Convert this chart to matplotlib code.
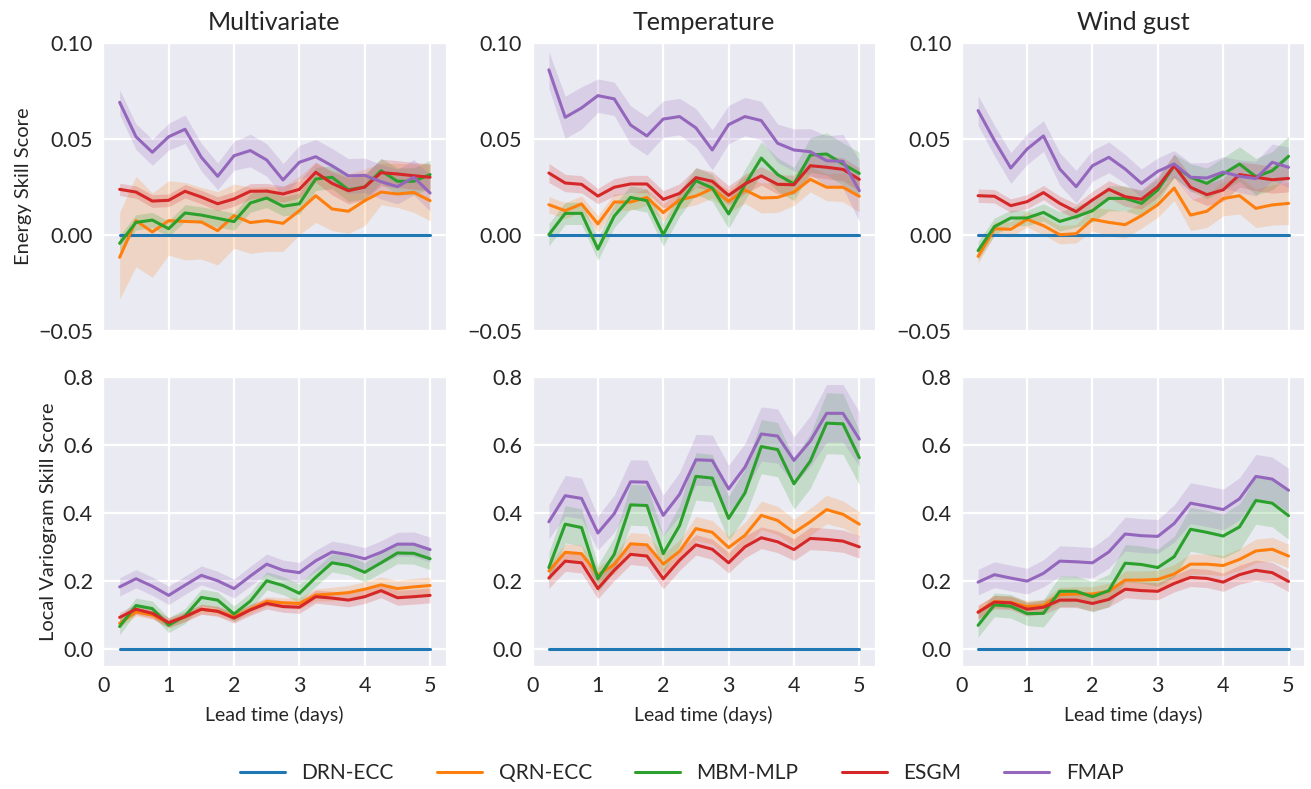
import matplotlib
matplotlib.use("Agg")
import matplotlib.pyplot as plt
import seaborn as sns
import numpy as np

# lead times (days)
lead_times = [0.25, 0.5, 0.75, 1.0, 1.25, 1.5, 1.75, 2.0, 2.25, 2.5,
              2.75, 3.0, 3.25, 3.5, 3.75, 4.0, 4.25, 4.5, 4.75, 5.0]

models = ["DRN-ECC", "QRN-ECC", "MBM-MLP", "ESGM", "FMAP"]
colors = ["#1f77b4", "#ff7f0e", "#2ca02c", "#d62728", "#9467bd"]
col_titles = ["Multivariate", "Temperature", "Wind gust"]
row_labels = ["Energy Skill Score", "Local Variogram Skill Score"]

# ---- Energy skill score: means ----
es_mv_qrn = [-0.0118, 0.0073, 0.0014, 0.0073, 0.0069, 0.0066, 0.0021, 0.0099, 0.0063, 0.0073,
             0.0059, 0.0125, 0.0203, 0.0134, 0.0122, 0.0177, 0.0222, 0.0212, 0.022, 0.0177]
es_mv_mbm = [-0.0045, 0.0064, 0.0076, 0.0031, 0.0113, 0.0102, 0.0085, 0.0068, 0.0165, 0.0191,
             0.0148, 0.0161, 0.029, 0.0299, 0.0234, 0.0248, 0.0333, 0.0278, 0.0278, 0.0313]
es_mv_esgm = [0.0236, 0.0222, 0.0175, 0.0179, 0.0226, 0.0196, 0.0161, 0.0186, 0.0226, 0.0227,
              0.0212, 0.0236, 0.0325, 0.0267, 0.0229, 0.0248, 0.0323, 0.0316, 0.0307, 0.0299]
es_mv_fmap = [0.0689, 0.051, 0.0429, 0.051, 0.0549, 0.0403, 0.0304, 0.0411, 0.0438, 0.0389,
              0.0285, 0.0377, 0.0406, 0.0359, 0.0306, 0.0309, 0.0276, 0.025, 0.0299, 0.0217]

es_t_qrn = [0.0156, 0.0125, 0.016, 0.0056, 0.017, 0.017, 0.0194, 0.0115, 0.0181, 0.0201,
            0.024, 0.0174, 0.0233, 0.0191, 0.0194, 0.0222, 0.0288, 0.0247, 0.0247, 0.02]
es_t_mbm = [0.0, 0.0111, 0.0111, -0.0075, 0.0097, 0.0194, 0.0177, 0.0, 0.016, 0.0281,
            0.0243, 0.0108, 0.026, 0.0399, 0.0313, 0.0264, 0.0415, 0.042, 0.0368, 0.0319]
es_t_esgm = [0.0321, 0.0269, 0.0262, 0.0201, 0.0247, 0.0264, 0.0264, 0.0184, 0.0215, 0.0297,
             0.0278, 0.0205, 0.0264, 0.0306, 0.0262, 0.026, 0.0359, 0.0351, 0.034, 0.0288]
es_t_fmap = [0.0858, 0.0611, 0.066, 0.0724, 0.0707, 0.0571, 0.0514, 0.0602, 0.0615, 0.0556,
             0.0441, 0.0573, 0.0615, 0.0594, 0.0476, 0.0441, 0.0432, 0.0385, 0.0382, 0.0229]

es_w_qrn = [-0.0113, 0.0031, 0.0028, 0.008, 0.0047, 0.0, 0.0005, 0.008, 0.0064, 0.0052,
            0.0099, 0.0156, 0.0243, 0.0102, 0.0122, 0.0188, 0.0203, 0.0137, 0.0155, 0.0163]
es_w_mbm = [-0.0083, 0.0042, 0.0087, 0.0087, 0.0116, 0.0069, 0.0094, 0.0125, 0.0189, 0.0189,
            0.0163, 0.0233, 0.0359, 0.0299, 0.0267, 0.0316, 0.0368, 0.0302, 0.0333, 0.0408]
es_w_esgm = [0.0203, 0.02, 0.0151, 0.0172, 0.0219, 0.0163, 0.012, 0.0181, 0.0236, 0.0198,
             0.0184, 0.025, 0.0359, 0.0247, 0.0208, 0.0233, 0.0313, 0.0299, 0.0286, 0.0293]
es_w_fmap = [0.0646, 0.049, 0.0347, 0.0446, 0.0514, 0.0342, 0.025, 0.0359, 0.0403, 0.0342,
             0.0267, 0.033, 0.0368, 0.0299, 0.0295, 0.0326, 0.0304, 0.0292, 0.0377, 0.0351]

# ---- Energy skill score: band half widths (below, above) ----
es_mv_qrn_lo = [0.0217, 0.024, 0.0236, 0.0179, 0.02, 0.0193, 0.0179, 0.017, 0.016, 0.016,
                0.0146, 0.0125, 0.0139, 0.0113, 0.0115, 0.013, 0.0066, 0.007, 0.0104, 0.0104]
es_mv_qrn_hi = [0.0234, 0.0231, 0.0203, 0.0208, 0.0203, 0.018, 0.0203, 0.0165, 0.0184, 0.0177,
                0.019, 0.018, 0.0174, 0.02, 0.0194, 0.0165, 0.015, 0.016, 0.0148, 0.019]
es_mv_mbm_hw = [0.004, 0.004, 0.004, 0.004, 0.0043, 0.0043, 0.0045, 0.0045, 0.0048, 0.005,
                0.005, 0.0055, 0.006, 0.006, 0.006, 0.0062, 0.0065, 0.007, 0.007, 0.0074]
es_mv_esgm_hw = [0.0032, 0.0032, 0.0033, 0.0033, 0.0035, 0.0035, 0.0036, 0.0038, 0.004, 0.004,
                 0.0042, 0.0045, 0.0052, 0.006, 0.0068, 0.0068, 0.007, 0.007, 0.007, 0.007]
es_mv_fmap_hw = [0.0065, 0.0067, 0.0068, 0.007, 0.0074, 0.0072, 0.007, 0.0075, 0.0085, 0.0085,
                 0.0085, 0.0088, 0.009, 0.009, 0.009, 0.009, 0.009, 0.009, 0.0092, 0.0095]

es_t_qrn_hw = [0.0042, 0.0042, 0.0042, 0.0043, 0.0043, 0.0043, 0.0043, 0.0045, 0.0045, 0.0045,
               0.005, 0.006, 0.007, 0.0078, 0.0078, 0.007, 0.0065, 0.007, 0.0075, 0.0082]
es_t_mbm_hw = [0.0058, 0.0058, 0.0058, 0.0058, 0.006, 0.006, 0.006, 0.006, 0.0065, 0.007,
               0.007, 0.0075, 0.008, 0.0085, 0.0087, 0.0087, 0.009, 0.011, 0.011, 0.011]
es_t_esgm_hw = [0.005, 0.0045, 0.0045, 0.004, 0.0045, 0.0045, 0.0045, 0.0045, 0.005, 0.005,
                0.005, 0.005, 0.005, 0.0048, 0.005, 0.005, 0.0056, 0.006, 0.006, 0.006]
es_t_fmap_hw = [0.0095, 0.011, 0.011, 0.0087, 0.0087, 0.01, 0.01, 0.0095, 0.0095, 0.01,
                0.0104, 0.01, 0.01, 0.01, 0.01, 0.011, 0.012, 0.013, 0.014, 0.016]

es_w_qrn_hw = [0.0035, 0.0035, 0.004, 0.004, 0.0048, 0.0048, 0.0048, 0.006, 0.007, 0.007,
               0.0065, 0.0065, 0.0065, 0.008, 0.0085, 0.009, 0.0095, 0.01, 0.0105, 0.011]
es_w_mbm_hw = [0.0048, 0.0045, 0.004, 0.004, 0.0045, 0.005, 0.0055, 0.006, 0.0065, 0.0065,
               0.0065, 0.006, 0.006, 0.007, 0.008, 0.0085, 0.009, 0.0095, 0.01, 0.0105]
es_w_esgm_hw = [0.0035, 0.0035, 0.0035, 0.0037, 0.0037, 0.0038, 0.004, 0.0045, 0.0045, 0.005,
                0.005, 0.0055, 0.006, 0.006, 0.0056, 0.006, 0.0065, 0.007, 0.007, 0.007]
es_w_fmap_hw = [0.0078, 0.008, 0.008, 0.008, 0.008, 0.0085, 0.0085, 0.008, 0.008, 0.0075,
                0.0075, 0.007, 0.007, 0.0075, 0.008, 0.008, 0.0085, 0.009, 0.0095, 0.0105]

# ---- Local variogram skill score: means ----
vs_mv_qrn = [0.0745, 0.108, 0.099, 0.0745, 0.094, 0.116, 0.11, 0.094, 0.116, 0.139,
             0.135, 0.133, 0.158, 0.161, 0.165, 0.175, 0.188, 0.177, 0.182, 0.186]
vs_mv_mbm = [0.065, 0.127, 0.118, 0.069, 0.096, 0.151, 0.143, 0.102, 0.14, 0.2,
             0.186, 0.163, 0.21, 0.253, 0.245, 0.225, 0.253, 0.282, 0.281, 0.265]
vs_mv_esgm = [0.092, 0.116, 0.104, 0.0765, 0.094, 0.116, 0.11, 0.09, 0.114, 0.133,
              0.124, 0.122, 0.153, 0.149, 0.143, 0.153, 0.171, 0.15, 0.153, 0.157]
vs_mv_fmap = [0.182, 0.206, 0.184, 0.157, 0.187, 0.216, 0.2, 0.177, 0.214, 0.249,
              0.231, 0.224, 0.259, 0.285, 0.277, 0.265, 0.284, 0.308, 0.308, 0.292]

vs_t_qrn = [0.229, 0.284, 0.28, 0.217, 0.248, 0.309, 0.306, 0.249, 0.287, 0.354,
            0.343, 0.298, 0.334, 0.393, 0.378, 0.342, 0.374, 0.41, 0.396, 0.367]
vs_t_mbm = [0.239, 0.367, 0.357, 0.206, 0.278, 0.424, 0.422, 0.28, 0.363, 0.508,
            0.503, 0.384, 0.459, 0.596, 0.587, 0.486, 0.553, 0.665, 0.663, 0.563]
vs_t_esgm = [0.208, 0.258, 0.253, 0.177, 0.231, 0.278, 0.273, 0.206, 0.261, 0.306,
             0.293, 0.253, 0.3, 0.327, 0.315, 0.292, 0.325, 0.322, 0.317, 0.3]
vs_t_fmap = [0.374, 0.451, 0.443, 0.341, 0.398, 0.492, 0.491, 0.393, 0.455, 0.557,
             0.555, 0.471, 0.535, 0.633, 0.627, 0.555, 0.612, 0.694, 0.694, 0.618]

vs_w_qrn = [0.108, 0.139, 0.136, 0.124, 0.127, 0.159, 0.161, 0.161, 0.169, 0.202,
            0.202, 0.204, 0.22, 0.249, 0.249, 0.245, 0.263, 0.288, 0.293, 0.273]
vs_w_mbm = [0.0686, 0.129, 0.125, 0.103, 0.104, 0.169, 0.169, 0.153, 0.171, 0.252,
            0.248, 0.239, 0.271, 0.352, 0.343, 0.332, 0.359, 0.437, 0.429, 0.392]
vs_w_esgm = [0.107, 0.137, 0.135, 0.116, 0.122, 0.143, 0.143, 0.133, 0.145, 0.175,
             0.171, 0.169, 0.192, 0.21, 0.207, 0.196, 0.218, 0.231, 0.224, 0.198]
vs_w_fmap = [0.196, 0.218, 0.208, 0.199, 0.222, 0.258, 0.256, 0.253, 0.285, 0.338,
             0.333, 0.331, 0.369, 0.429, 0.42, 0.41, 0.442, 0.508, 0.5, 0.467]

# ---- Local variogram skill score: band half widths ----
vs_mv_qrn_hw = [0.012, 0.012, 0.012, 0.012, 0.012, 0.013, 0.013, 0.013, 0.014, 0.014,
                0.015, 0.016, 0.018, 0.02, 0.021, 0.022, 0.023, 0.024, 0.025, 0.025]
vs_mv_mbm_hw = [0.024, 0.022, 0.022, 0.022, 0.022, 0.024, 0.024, 0.024, 0.025, 0.027,
                0.027, 0.027, 0.027, 0.027, 0.028, 0.029, 0.03, 0.032, 0.032, 0.032]
vs_mv_esgm_hw = [0.015, 0.015, 0.015, 0.015, 0.015, 0.015, 0.015, 0.015, 0.016, 0.016,
                 0.017, 0.018, 0.019, 0.02, 0.02, 0.02, 0.021, 0.022, 0.022, 0.022]
vs_mv_fmap_hw = [0.027, 0.027, 0.027, 0.027, 0.027, 0.028, 0.028, 0.028, 0.029, 0.03,
                 0.03, 0.03, 0.031, 0.032, 0.032, 0.033, 0.034, 0.035, 0.036, 0.037]

vs_t_qrn_hw = [0.022, 0.025, 0.025, 0.022, 0.028, 0.033, 0.033, 0.03, 0.033, 0.035,
               0.035, 0.035, 0.038, 0.042, 0.042, 0.04, 0.04, 0.042, 0.04, 0.037]
vs_t_mbm_hw = [0.045, 0.055, 0.055, 0.04, 0.05, 0.06, 0.06, 0.055, 0.06, 0.07,
               0.07, 0.065, 0.07, 0.08, 0.08, 0.075, 0.08, 0.09, 0.09, 0.08]
vs_t_esgm_hw = [0.03, 0.03, 0.03, 0.03, 0.03, 0.03, 0.03, 0.03, 0.03, 0.03,
                0.03, 0.03, 0.032, 0.032, 0.032, 0.032, 0.033, 0.033, 0.033, 0.033]
vs_t_fmap_hw = [0.05, 0.06, 0.06, 0.05, 0.055, 0.065, 0.065, 0.06, 0.065, 0.075,
                0.075, 0.07, 0.07, 0.08, 0.08, 0.07, 0.075, 0.085, 0.085, 0.08]

vs_w_qrn_hw = [0.02, 0.018, 0.018, 0.018, 0.018, 0.022, 0.022, 0.022, 0.024, 0.027,
               0.027, 0.027, 0.028, 0.03, 0.03, 0.03, 0.032, 0.035, 0.035, 0.035]
vs_w_mbm_hw = [0.035, 0.035, 0.035, 0.035, 0.04, 0.045, 0.045, 0.045, 0.048, 0.055,
               0.055, 0.055, 0.06, 0.065, 0.065, 0.065, 0.068, 0.07, 0.07, 0.07]
vs_w_esgm_hw = [0.02, 0.02, 0.02, 0.02, 0.02, 0.022, 0.022, 0.022, 0.022, 0.025,
                0.025, 0.025, 0.025, 0.027, 0.027, 0.027, 0.028, 0.03, 0.03, 0.03]
vs_w_fmap_hw = [0.038, 0.038, 0.038, 0.038, 0.04, 0.045, 0.045, 0.045, 0.048, 0.05,
                0.05, 0.05, 0.055, 0.06, 0.06, 0.06, 0.062, 0.065, 0.065, 0.065]

# DRN-ECC is the reference model, so its skill score is zero everywhere
baseline = [0.0] * len(lead_times)

# panels[row][col] = list of (mean, lower half width, upper half width) per model after DRN-ECC
panels = [
    [
        [(es_mv_qrn, es_mv_qrn_lo, es_mv_qrn_hi), (es_mv_mbm, es_mv_mbm_hw, es_mv_mbm_hw),
         (es_mv_esgm, es_mv_esgm_hw, es_mv_esgm_hw), (es_mv_fmap, es_mv_fmap_hw, es_mv_fmap_hw)],
        [(es_t_qrn, es_t_qrn_hw, es_t_qrn_hw), (es_t_mbm, es_t_mbm_hw, es_t_mbm_hw),
         (es_t_esgm, es_t_esgm_hw, es_t_esgm_hw), (es_t_fmap, es_t_fmap_hw, es_t_fmap_hw)],
        [(es_w_qrn, es_w_qrn_hw, es_w_qrn_hw), (es_w_mbm, es_w_mbm_hw, es_w_mbm_hw),
         (es_w_esgm, es_w_esgm_hw, es_w_esgm_hw), (es_w_fmap, es_w_fmap_hw, es_w_fmap_hw)],
    ],
    [
        [(vs_mv_qrn, vs_mv_qrn_hw, vs_mv_qrn_hw), (vs_mv_mbm, vs_mv_mbm_hw, vs_mv_mbm_hw),
         (vs_mv_esgm, vs_mv_esgm_hw, vs_mv_esgm_hw), (vs_mv_fmap, vs_mv_fmap_hw, vs_mv_fmap_hw)],
        [(vs_t_qrn, vs_t_qrn_hw, vs_t_qrn_hw), (vs_t_mbm, vs_t_mbm_hw, vs_t_mbm_hw),
         (vs_t_esgm, vs_t_esgm_hw, vs_t_esgm_hw), (vs_t_fmap, vs_t_fmap_hw, vs_t_fmap_hw)],
        [(vs_w_qrn, vs_w_qrn_hw, vs_w_qrn_hw), (vs_w_mbm, vs_w_mbm_hw, vs_w_mbm_hw),
         (vs_w_esgm, vs_w_esgm_hw, vs_w_esgm_hw), (vs_w_fmap, vs_w_fmap_hw, vs_w_fmap_hw)],
    ],
]

sns.set_style("darkgrid", {"grid.linewidth": 1.6})
plt.rcParams["font.family"] = ["Lato", "DejaVu Sans"]
plt.rcParams["axes.unicode_minus"] = True

fig, axes = plt.subplots(2, 3, figsize=(13.11, 7.89), dpi=100)
fig.subplots_adjust(left=0.0788, right=0.9947, top=0.946, bottom=0.1565,
                    wspace=0.254, hspace=0.162)

x = np.array(lead_times)
for r in range(2):
    for c in range(3):
        ax = axes[r, c]
        ax.grid(True, color="white", lw=1.6)
        ax.plot(x, baseline, color=colors[0], lw=2.2, label=models[0])
        for k, (mean, lo, hi) in enumerate(panels[r][c]):
            m = np.array(mean)
            ax.fill_between(x, m - np.array(lo), m + np.array(hi),
                            color=colors[k + 1], alpha=0.2, lw=0)
            ax.plot(x, m, color=colors[k + 1], lw=2.2, label=models[k + 1])
        ax.set_xlim(left=0)
        ax.set_xticks([0, 1, 2, 3, 4, 5])
        if r == 0:
            ax.set_ylim(-0.05, 0.10)
            ax.set_yticks([-0.05, 0.0, 0.05, 0.10])
            ax.set_yticklabels(["\u22120.05", "0.00", "0.05", "0.10"])
            ax.set_title(col_titles[c], fontsize=18, pad=9, color="#262626")
            ax.tick_params(axis="x", labelbottom=False)
        else:
            ax.set_ylim(-0.05, 0.8)
            ax.set_yticks([0.0, 0.2, 0.4, 0.6, 0.8])
            ax.set_xlabel("Lead time (days)", fontsize=14, color="#262626", labelpad=7.5)
        ax.tick_params(axis="both", labelsize=15.5, colors="#262626", pad=4)
        if c == 0:
            ax.set_ylabel(row_labels[r], fontsize=14.5, color="#262626")

handles, labels = axes[0, 0].get_legend_handles_labels()
fig.legend(handles, labels, loc="center", bbox_to_anchor=(0.52, 0.02), ncol=5,
           frameon=False, fontsize=15, handlelength=2.16, handletextpad=0.8,
           columnspacing=2.07)

fig.savefig("out.png", dpi=100)
